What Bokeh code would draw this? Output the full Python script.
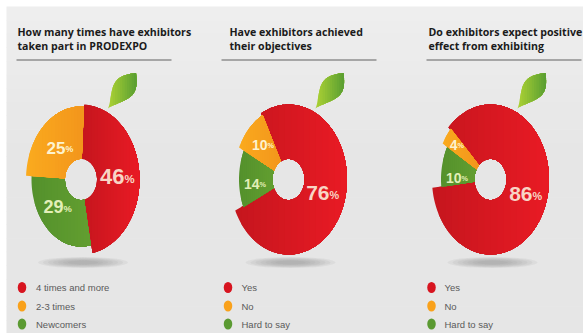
import numpy as np
from bokeh.core.properties import value
from bokeh.embed import file_html
from bokeh.models import Range1d
from bokeh.plotting import figure
from bokeh.resources import INLINE

# Survey results, one list per question (percent, in red / green / orange order)
titles = [
    ["How many times have exhibitors", "taken part in PRODEXPO"],
    ["Have exhibitors  achieved", "their objectives"],
    ["Do exhibitors expect positive", "effect from exhibiting"],
]
frequency_values = [46, 29, 25]
objectives_values = [76, 14, 10]
expectation_values = [86, 10, 4]
frequency_labels = ["4 times and more", "2-3 times", "Newcomers"]
answer_labels = ["Yes", "No", "Hard to say"]

W, H = 583, 333
FONT_TITLE = value("Open Sans")
FONT_NUM = value("Liberation Sans")
FONT_LEG = value("Liberation Sans")

p = figure(width=W, height=H, output_backend="svg", toolbar_location=None,
           x_range=Range1d(0, W), y_range=Range1d(H, 0), min_border=0)
p.axis.visible = False
p.grid.visible = False
p.outline_line_color = None
p.background_fill_color = "white"
p.border_fill_color = "white"


def mix(a, b, t):
    a = np.array(a, float)
    b = np.array(b, float)
    c = a + (b - a) * t
    return "#%02x%02x%02x" % tuple(int(round(v)) for v in c)


# Panel background, slightly lighter towards the top
bands = np.linspace(6, H, 25)
p.quad(left=6, right=W, top=bands[:-1], bottom=bands[1:] + 0.5,
       fill_color=[mix((238, 238, 238), (230, 230, 230), min(1, i / 10)) for i in range(24)],
       line_color=None)


def clip_right_of(poly, xlim):
    out = []
    n = len(poly)
    for i in range(n):
        a, b = poly[i], poly[(i + 1) % n]
        ina, inb = a[0] >= xlim, b[0] >= xlim
        if ina:
            out.append(a)
        if ina != inb:
            t = (xlim - a[0]) / (b[0] - a[0])
            out.append((xlim, a[1] + t * (b[1] - a[1])))
    return out


def shaded(poly, dark, light, strips=18):
    """Fill a polygon with a left-to-right ramp, painting each step over the last."""
    xs_all = [q[0] for q in poly]
    edges = np.linspace(min(xs_all), max(xs_all), strips + 1)
    for i in range(strips):
        part = clip_right_of(poly, edges[i])
        if len(part) < 3:
            continue
        p.patch([q[0] for q in part], [q[1] for q in part],
                fill_color=mix(dark, light, i / (strips - 1)), line_color=None)


def wedge(cx, cy, rx, ry, hx, hy, a0, a1):
    """Annular sector on a vertically stretched ring; angles clockwise from the top."""
    n = max(8, int(abs(a1 - a0) / 2))
    th = np.radians(np.linspace(a0, a1, n))
    outer = [(cx + rx * np.sin(t), cy - ry * np.cos(t)) for t in th]
    inner = [(cx + hx * np.sin(t), cy - hy * np.cos(t)) for t in th[::-1]]
    return outer + inner


RED = ((198, 22, 30), (232, 26, 36))
GREEN = ((84, 145, 44), (98, 158, 48))
ORANGE = ((250, 170, 30), (243, 150, 28))
LEAF_DARK, LEAF_LIGHT = (170, 208, 52), (92, 160, 50)
LEGEND = ["#d7141f", "#f9a11b", "#5b9a32"]
LABEL_COLOURS = ["#f8d5c5", "#e3efb8", "#fdf3cf"]


def leaf(cx):
    # Leaf outline: two bowed edges between stem and tip, fullest nearer the tip
    t = np.linspace(0, 1, 24)
    bow = np.sin(np.pi * t ** 1.3)
    sx, sy = cx + 27, 108
    tx, ty = cx + 55, 72.5
    left = [(sx + (tx - sx) * u - 8.5 * b, sy + (ty - sy) * u - 6.5 * b) for u, b in zip(t, bow)]
    right = [(sx + (tx - sx) * u + 8.5 * b, sy + (ty - sy) * u + 6.5 * b) for u, b in zip(t[::-1], bow[::-1])]
    shaded(left + right, LEAF_DARK, LEAF_LIGHT, strips=12)


def panel(cx, vals, start, title, tx, rule, labels, leg_x, text_x, num_pos, sizes):
    cy = 179
    # Ground shadow under the fruit
    for k in range(7):
        p.ellipse(x=cx + 2, y=262, width=90 - 10 * k, height=11 - k * 1.2,
                  fill_color="#8a8a8a", fill_alpha=0.10, line_color=None)
    # Slices run clockwise from the red one, which has the largest radius
    a = start
    radii = [(58.5, 75), (49.5, 67), (55, 73)]
    ramps = [RED, GREEN, ORANGE]
    for v, (rx, ry), ramp in zip(vals, radii, ramps):
        sw = v * 3.6
        shaded(wedge(cx, cy, rx, ry, 16, 20.5, a, a + sw), ramp[0], ramp[1])
        a += sw
    leaf(cx)
    # Title and rule under it
    p.text(x=[tx, tx], y=[31, 45], text=title, text_font=FONT_TITLE, text_font_style="bold",
           text_font_size="10.6px", text_color="#1b1b1b", text_baseline="middle", text_align="left")
    p.line(x=rule, y=[59.5, 59.5], line_color="#8f8f8f", line_width=1.4)
    # Percentage labels: the number and a smaller percent sign
    for (nx, ny), v, fs, colour in zip(num_pos, vals, sizes, LABEL_COLOURS):
        p.text(x=[nx], y=[ny], text=[str(v)], text_font=FONT_NUM, text_font_style="bold",
               text_font_size=f"{fs}px", text_color=colour, text_align="right", text_baseline="middle")
        p.text(x=[nx], y=[ny + fs * 0.1], text=["%"], text_font=FONT_NUM, text_font_style="bold",
               text_font_size=f"{fs * 0.52:.1f}px", text_color=colour, text_align="left", text_baseline="middle")
    # Legend
    ys = [287, 305.5, 323.5]
    p.ellipse(x=[leg_x] * 3, y=ys, width=8.5, height=11, fill_color=LEGEND, line_color=None)
    p.text(x=[text_x] * 3, y=ys, text=labels, text_font=FONT_LEG, text_font_size="9.5px",
           text_color="#5a5a5a", text_baseline="middle", text_align="left")


panel(80.5, frequency_values, 3, titles[0], 17, [16, 171], frequency_labels, 21.5, 35.5,
      [(124, 176), (63, 206), (65, 147)], [22, 18, 17])
panel(288, objectives_values, -28, titles[1], 229, [221, 376], answer_labels, 227.5, 241,
      [(329, 192), (259, 183), (267, 144)], [21, 14, 14])
panel(490, expectation_values, -46, titles[2], 428, [426, 581], answer_labels, 431, 444,
      [(532, 193), (461, 177), (457, 144)], [21, 14, 14])

open("out.html", "w").write(file_html(p, INLINE))
